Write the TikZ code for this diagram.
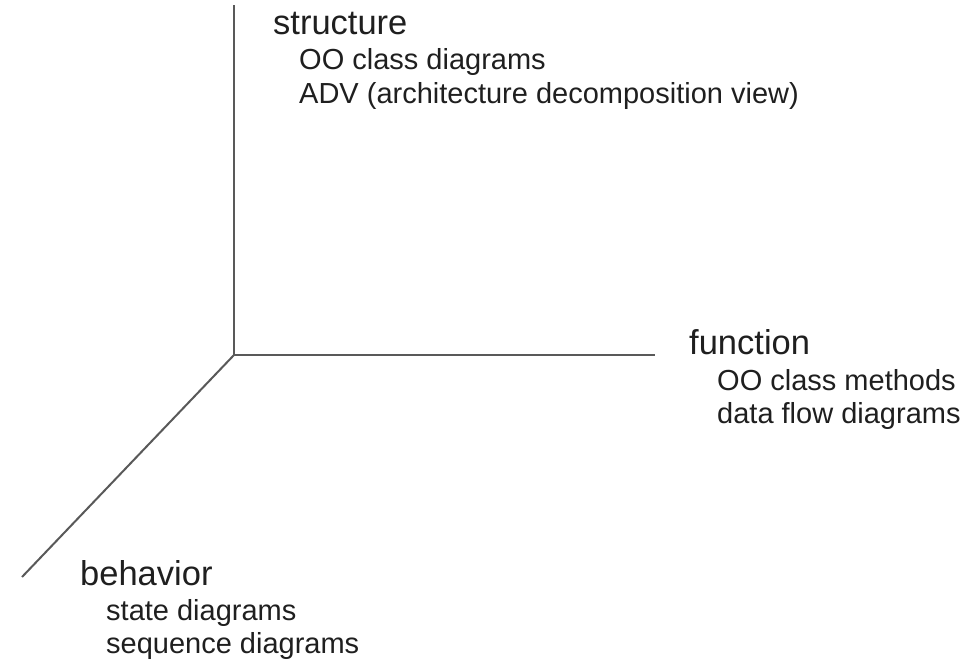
\documentclass[tikz,border=0pt]{standalone}
\usepackage{fontspec}
\setmainfont{Liberation Sans}
\begin{document}
\begin{tikzpicture}[x=1pt,y=-1pt,
  axis/.style={draw=black!65, line width=2pt},
  head/.style={anchor=base west, inner sep=0pt, text=black!88, font=\fontsize{34.5}{40}\selectfont},
  sub/.style={anchor=base west, inner sep=0pt, text=black!88, font=\fontsize{29}{34}\selectfont}]
\useasboundingbox (0,0) rectangle (970,661);
\coordinate (o) at (234,355);
\coordinate (up) at (234,5);
\coordinate (right) at (655,355);
\coordinate (dl) at (22,577);
\draw[axis] (o) -- (up);
\draw[axis] (o) -- (right);
\draw[axis] (o) -- (dl);
\node[head] (s) at (273,35) {structure};
\node[sub] (s1) at (299,70) {OO class diagrams};
\node[sub] (s2) at (299,103) {ADV (architecture decomposition view)};
\node[head] (f) at (689,354) {function};
\node[sub] (f1) at (717,390) {OO class methods};
\node[sub] (f2) at (717,423) {data flow diagrams};
\node[head] (b) at (80,585) {behavior};
\node[sub] (b1) at (106,620) {state diagrams};
\node[sub] (b2) at (106,653) {sequence diagrams};
\end{tikzpicture}
\end{document}
